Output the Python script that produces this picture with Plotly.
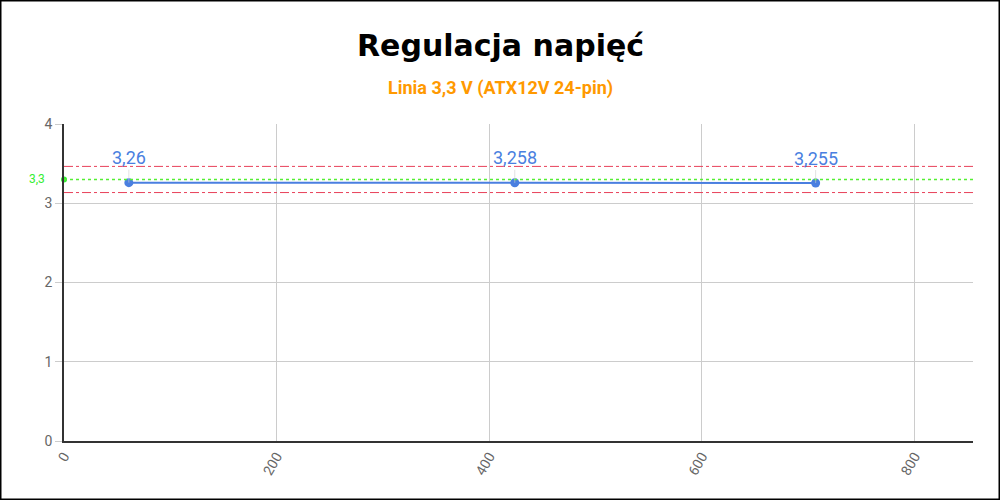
import plotly.graph_objects as go

# Data
load_w = [61, 424, 707]
voltage = [3.26, 3.258, 3.255]
voltage_labels = ["3,26", "3,258", "3,255"]
nominal = 3.3
upper_limit = 3.465
lower_limit = 3.135
nominal_label = "3,3"
y_ticks = [0, 1, 2, 3, 4]
x_ticks = [0, 200, 400, 600, 800]

title_text = "Regulacja napięć"
subtitle_text = "Linia 3,3 V (ATX12V 24-pin)"

W, H = 1000, 500
ml, mr, mt, mb = 64, 27, 124, 59
pw, ph = W - ml - mr, H - mt - mb

fig = go.Figure()

fig.add_trace(go.Scatter(
    x=load_w, y=voltage, mode="lines+markers",
    line=dict(color="#4a7fe0", width=2),
    marker=dict(color="#4a7fe0", size=9),
    hoverinfo="skip", showlegend=False,
))

# nominal marker dot on the y axis
fig.add_trace(go.Scatter(
    x=[0], y=[nominal], mode="markers",
    marker=dict(color="#33ee33", size=6),
    cliponaxis=False, hoverinfo="skip", showlegend=False,
))

shapes = [
    dict(type="line", xref="paper", yref="y", x0=0, x1=1, y0=upper_limit, y1=upper_limit,
         line=dict(color="#e8405a", width=1, dash="dashdot"), layer="above"),
    dict(type="line", xref="paper", yref="y", x0=0, x1=1, y0=lower_limit, y1=lower_limit,
         line=dict(color="#e8405a", width=1, dash="dashdot"), layer="above"),
    dict(type="line", xref="paper", yref="y", x0=0, x1=1, y0=nominal, y1=nominal,
         line=dict(color="#55ee33", width=1.5, dash="dot"), layer="above"),
    # outer border
    dict(type="rect", xref="paper", yref="paper",
         x0=(0.75 - ml) / pw, x1=(W - 0.75 - ml) / pw,
         y0=-(mb - 0.75) / ph, y1=1 + (mt - 0.75) / ph,
         line=dict(color="black", width=1.5), fillcolor="rgba(0,0,0,0)"),
]

annotations = []
for xv, yv, lab in zip(load_w, voltage, voltage_labels):
    annotations.append(dict(
        x=xv, y=yv, xref="x", yref="y", text=lab, showarrow=True,
        ax=0, ay=-25, arrowhead=0, arrowwidth=0.6, arrowcolor="#cccccc",
        font=dict(family="Roboto", size=18, color="#4a7fe0"),
    ))

annotations.append(dict(
    x=0, y=nominal, xref="paper", yref="y", text=nominal_label, showarrow=False,
    xanchor="right", xshift=-17, font=dict(family="Roboto", size=12, color="#33ee33"),
))

annotations.append(dict(
    x=(W / 2 - ml) / pw, y=1 + (mt - 46) / ph, xref="paper", yref="paper",
    text="<b>" + title_text + "</b>", showarrow=False, xanchor="center", yanchor="middle",
    font=dict(family="DejaVu Sans", size=30, color="black"),
))
annotations.append(dict(
    x=(W / 2 - ml) / pw, y=1 + (mt - 88) / ph, xref="paper", yref="paper",
    text="<b>" + subtitle_text + "</b>", showarrow=False, xanchor="center", yanchor="middle",
    font=dict(family="Roboto", size=18, color="#ff9900"),
))

fig.update_layout(
    width=W, height=H,
    margin=dict(l=ml, r=mr, t=mt, b=mb),
    paper_bgcolor="white", plot_bgcolor="white",
    shapes=shapes, annotations=annotations,
    font=dict(family="Roboto", color="#666666"),
    xaxis=dict(
        range=[0, 855], tickvals=x_ticks, ticktext=[str(v) for v in x_ticks],
        tickangle=-60, showgrid=True, gridcolor="#cccccc", gridwidth=1,
        zeroline=False, showline=True, linecolor="#333333", linewidth=1.5,
        ticks="", tickfont=dict(family="Roboto", size=14, color="#666666"),
    ),
    yaxis=dict(
        range=[0, 4], tickvals=y_ticks, ticktext=[str(v) for v in y_ticks],
        showgrid=True, gridcolor="#cccccc", gridwidth=1,
        zeroline=False, showline=True, linecolor="#333333", linewidth=1.5,
        ticks="outside", ticklen=7, tickcolor="#cccccc",
        tickfont=dict(family="Roboto", size=14, color="#666666"),
    ),
)

fig.write_html(
    "out.html",
    config={"displayModeBar": False},
    post_script="document.body.style.margin='0';document.body.style.overflow='hidden';",
)
